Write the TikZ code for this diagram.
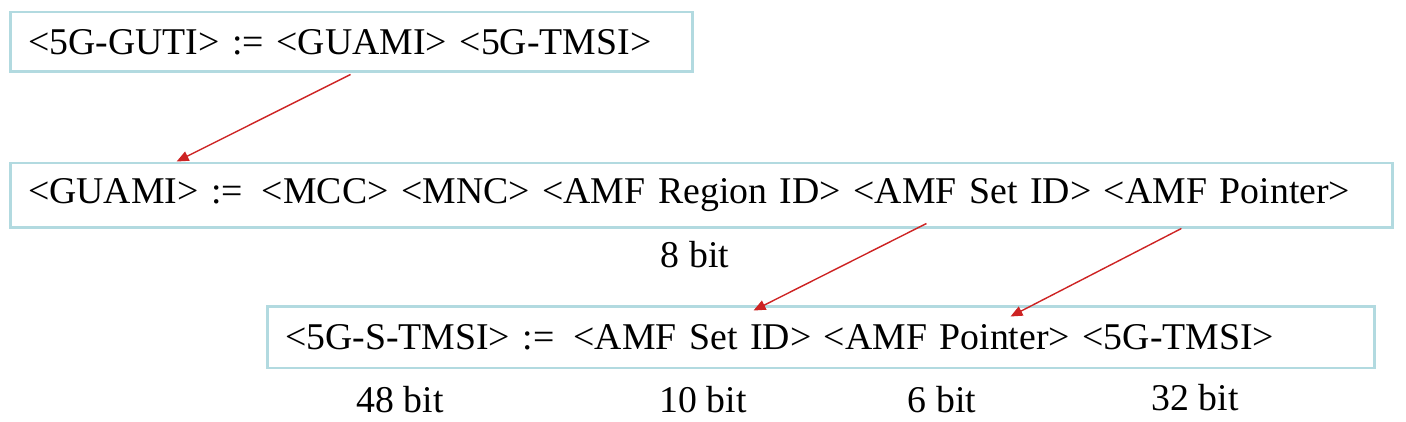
\documentclass[tikz,border=0pt]{standalone}
\usepackage{fontspec}
\setmainfont{Liberation Serif}
\usetikzlibrary{positioning,arrows.meta}
\definecolor{boxblue}{RGB}{178,218,224}
\definecolor{arrowred}{RGB}{205,35,35}

\begin{document}
\begin{tikzpicture}[x=0.02cm, y=-0.02cm,
    idbox/.style={draw=boxblue, line width=1.7pt, inner xsep=0.36cm,
                  inner ysep=0pt, align=left,
                  font=\fontsize{21.5}{26}\selectfont},
    bits/.style={font=\fontsize{21.5}{26}\selectfont},
    link/.style={draw=arrowred, line width=0.8pt,
                 -{Triangle[length=0.24cm, width=0.2cm]}}
]
\useasboundingbox (0,0) rectangle (1406,422);

% ============================
% Identifier boxes
% ============================
\node[idbox, text width=12.94cm, minimum height=1.2cm] (guti) at (351.5,42)
    {<5G-GUTI> := <GUAMI> <5G-TMSI>};
\node[idbox, text width=26.94cm, minimum height=1.3cm] (guami) at (701.5,195.5)
    {\mbox{<GUAMI> :=\ \,<MCC> <MNC> <AMF Region ID> <AMF Set ID> <AMF Pointer>}};
\node[idbox, text width=21.44cm, minimum height=1.24cm] (stmsi) at (821,337)
    {<5G-S-TMSI> :=\ \,<AMF Set ID> <AMF Pointer> <5G-TMSI>};

% ============================
% Bit lengths
% ============================
\node[bits] (regionbits) at (695,255) {8 bit};
\node[bits] (stmsibits)  at (400,400) {48 bit};
\node[bits] (setbits)    at (703,400) {10 bit};
\node[bits] (ptrbits)    at (942,400) {6 bit};
\node[bits] (tmsibits)   at (1195,398) {32 bit};

% ============================
% Arrows
% ============================
\coordinate (gutiout) at ([xshift=6.84cm, yshift=-0.02cm]guti.south west);
\coordinate (guamiin) at ([xshift=3.36cm]guami.north west);
\coordinate (setout)  at ([xshift=18.36cm, yshift=0.12cm]guami.south west);
\coordinate (setin)   at ([xshift=9.76cm, yshift=-0.12cm]stmsi.north west);
\coordinate (ptrout)  at ([xshift=23.46cm, yshift=0.02cm]guami.south west);
\coordinate (ptrin)   at ([xshift=14.9cm, yshift=-0.24cm]stmsi.north west);
\draw[link] (gutiout) -- (guamiin);
\draw[link] (setout) -- (setin);
\draw[link] (ptrout) -- (ptrin);

\end{tikzpicture}
\end{document}
